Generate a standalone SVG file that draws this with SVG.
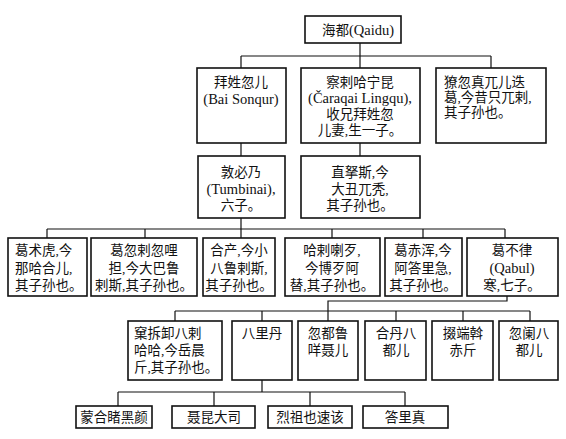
<svg xmlns="http://www.w3.org/2000/svg" width="566" height="439" viewBox="0 0 566 439">
<style>
rect.b{fill:#fff;stroke:#111;stroke-width:1.6}
#connectors path{fill:none;stroke:#111;stroke-width:1.2}
text{font-family:'Liberation Serif','Noto Sans CJK SC',serif;font-size:13.5px;fill:#111}
.lat{font-size:14.5px}
.c{text-anchor:middle}
.l{text-anchor:start}
</style>
<rect width="566" height="439" fill="#fff"/>
<g id="connectors">
<path d="M360 43V56M241 56H491M241 56V68M360 56V68M491 56V68"/>
<path d="M241 143V156M360 143V156"/>
<path d="M241 218V238M47 229H505M47 229V238M145 229V238M332 229V238M423 229V238M505 229V238"/>
<path d="M507 296V301H328V311M175 311H530M175 311V321M262 311V321M328 311V321M396 311V321M463 311V321M530 311V321"/>
<path d="M262 380V392M118 392H405M118 392V406M214 392V406M310 392V406M405 392V406"/>
</g>
<g id="n-qaidu"><rect class="b" x="305" y="16" width="96" height="27"/><text class="c" x="358" y="35">海都<tspan class="lat">(Qaidu)</tspan></text></g>
<g id="n-baisonqur"><rect class="b" x="197" y="68" width="89" height="75"/><text class="c" x="241" y="87">拜姓忽儿</text><text class="c lat" x="241" y="104">(Bai Sonqur)</text></g>
<g id="n-caraqai"><rect class="b" x="301" y="68" width="119" height="75"/><text class="c" x="360" y="87">察剌哈宁昆</text><text class="c lat" x="360" y="103">(Čaraqai Lingqu),</text><text class="c" x="360" y="119">收兄拜姓忽</text><text class="c" x="360" y="135">儿妻,生一子。</text></g>
<g id="n-liaohu"><rect class="b" x="436" y="68" width="110" height="75"/><text class="l" x="444" y="87">獠忽真兀儿迭</text><text class="l" x="444" y="102">葛,今昔只兀剌,</text><text class="l" x="444" y="117">其子孙也。</text></g>
<g id="n-tumbinai"><rect class="b" x="198" y="156" width="87" height="62"/><text class="c" x="241" y="177">敦必乃</text><text class="c lat" x="241" y="194">(Tumbinai),</text><text class="c" x="241" y="210">六子。</text></g>
<g id="n-zhinasi"><rect class="b" x="301" y="156" width="119" height="62"/><text class="c" x="360" y="177">直拏斯,今</text><text class="c" x="360" y="194">大丑兀秃,</text><text class="c" x="360" y="210">其子孙也。</text></g>
<g id="n-geshuhu"><rect class="b" x="8" y="238" width="79" height="58"/><text class="l" x="15" y="255">葛术虎,今</text><text class="l" x="15" y="273">那哈合儿,</text><text class="l" x="15" y="290">其子孙也。</text></g>
<g id="n-gehula"><rect class="b" x="91" y="238" width="106" height="58"/><text class="c" x="144" y="255">葛忽剌忽哩</text><text class="c" x="144" y="273">担,今大巴鲁</text><text class="c" x="144" y="290">剌斯,其子孙也。</text></g>
<g id="n-hechan"><rect class="b" x="203" y="238" width="72" height="58"/><text class="c" x="239" y="255">合产,今小</text><text class="c" x="239" y="273">八鲁剌斯,</text><text class="c" x="239" y="290">其子孙也。</text></g>
<g id="n-halala"><rect class="b" x="285" y="238" width="95" height="58"/><text class="c" x="332" y="255">哈剌喇歹,</text><text class="c" x="332" y="273">今博歹阿</text><text class="c" x="332" y="290">替,其子孙也。</text></g>
<g id="n-gechihun"><rect class="b" x="385" y="238" width="77" height="58"/><text class="c" x="423" y="255">葛赤浑,今</text><text class="c" x="423" y="273">阿答里急,</text><text class="c" x="423" y="290">其子孙也。</text></g>
<g id="n-qabul"><rect class="b" x="467" y="238" width="91" height="58"/><text class="c" x="512" y="255">葛不律</text><text class="c lat" x="512" y="273">(Qabul)</text><text class="c" x="512" y="290">寒,七子。</text></g>
<g id="n-kechai"><rect class="b" x="128" y="321" width="94" height="59"/><text class="l" x="134" y="338">窠拆卸八剌</text><text class="l" x="134" y="355">哈哈,今岳晨</text><text class="l" x="134" y="372">斤,其子孙也。</text></g>
<g id="n-balidan"><rect class="b" x="232" y="321" width="60" height="59"/><text class="c" x="262" y="338">八里丹</text></g>
<g id="n-hudulu"><rect class="b" x="298" y="321" width="60" height="59"/><text class="c" x="328" y="338">忽都鲁</text><text class="c" x="328" y="355">咩聂儿</text></g>
<g id="n-hedan"><rect class="b" x="365" y="321" width="61" height="59"/><text class="c" x="396" y="338">合丹八</text><text class="c" x="396" y="355">都儿</text></g>
<g id="n-duoduan"><rect class="b" x="432" y="321" width="61" height="59"/><text class="c" x="463" y="338">掇端斡</text><text class="c" x="463" y="355">赤斤</text></g>
<g id="n-hulan"><rect class="b" x="499" y="321" width="59" height="59"/><text class="c" x="529" y="338">忽阑八</text><text class="c" x="529" y="355">都儿</text></g>
<g id="n-menghe"><rect class="b" x="76" y="406" width="76" height="22"/><text class="c" x="114" y="422">蒙合睹黑颜</text></g>
<g id="n-niekun"><rect class="b" x="172" y="406" width="83" height="22"/><text class="c" x="214" y="422">聂昆大司</text></g>
<g id="n-liezu"><rect class="b" x="268" y="406" width="84" height="22"/><text class="c" x="310" y="422">烈祖也速该</text></g>
<g id="n-dalizhen"><rect class="b" x="363" y="406" width="85" height="22"/><text class="c" x="405" y="422">答里真</text></g>
</svg>
